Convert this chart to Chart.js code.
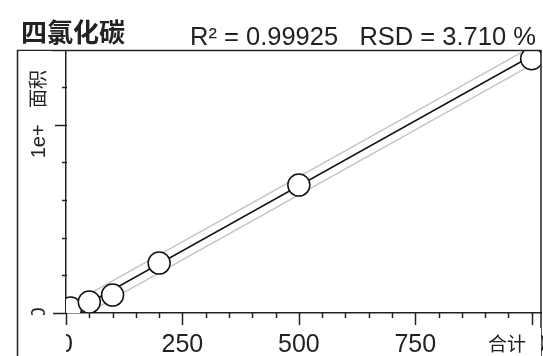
<!DOCTYPE html>
<html>
<head>
<meta charset="utf-8">
<script src="https://cdn.jsdelivr.net/npm/chart.js@4.4.0/dist/chart.umd.min.js"></script>
<style>
  html, body { margin: 0; padding: 0; background: #fff; }
  canvas { display: block; }
</style>
</head>
<body>
<canvas id="myChart" width="543" height="356"></canvas>
<script>
// chart texts
const chartTitle = '四氯化碳';
const statsText = 'R² = 0.99925   RSD = 3.710 %';
const xTitle = '合计';
const yTitle = '面积';

// calibration points (level vs area)
const levels = [10, 50, 100, 200, 500, 1000];
const areas = [2.6e5, 5.8e5, 9.5e5, 2.65e6, 6.79e6, 1.35e7];

// fitted line and its band, read at both ends of the axis
const fitX = [0, 1020];
const fitY = [-1.5e5, 1.393e7];
const bandUpper = [3.3e5, 1.441e7];
const bandLower = [-6.3e5, 1.345e7];

// axis ticks
const xMajorTicks = [0, 250, 500, 750, 1000];
const xTickLabels = ['0', '250', '500', '750', '1000'];
const xMinorStep = 50;
const yMajorTicks = [0, 1e7];
const yTickLabels = ['0', '1e+007'];
const yMinorStep = 2e6;

const toPts = (xs, ys) => xs.map((v, i) => ({x: v, y: ys[i]}));

// frame, tick marks, tick labels and titles
const axisDeco = {
  id: 'axisDeco',
  afterDraw(chart) {
    const {ctx, chartArea: a, scales: {x, y}} = chart;
    ctx.save();
    ctx.strokeStyle = '#222';
    ctx.lineWidth = 1.5;
    ctx.strokeRect(17.5, 50.5, 523.5, 340);

    // x tick marks
    for (let v = 0; v <= x.max; v += xMinorStep) {
      const px = Math.round(x.getPixelForValue(v)) + 0.5;
      const len = xMajorTicks.includes(v) ? 12 : 5;
      ctx.beginPath(); ctx.moveTo(px, a.bottom); ctx.lineTo(px, a.bottom + len); ctx.stroke();
    }
    // y tick marks
    for (let v = 0; v <= y.max; v += yMinorStep) {
      const py = Math.round(y.getPixelForValue(v)) + 0.5;
      const len = v === 0 ? 13 : (yMajorTicks.includes(v) ? 11 : 4);
      ctx.beginPath(); ctx.moveTo(a.left - len, py); ctx.lineTo(a.left + 1, py); ctx.stroke();
    }

    ctx.fillStyle = '#222';
    // x labels, clipped right of the y axis
    ctx.save();
    ctx.beginPath(); ctx.rect(a.left, a.bottom + 2, 543 - a.left, 60); ctx.clip();
    ctx.font = '25px "Liberation Sans"';
    ctx.textAlign = 'center';
    ctx.textBaseline = 'alphabetic';
    xMajorTicks.forEach((v, i) => ctx.fillText(xTickLabels[i], x.getPixelForValue(v), 352));
    ctx.restore();

    // y labels, clipped above the x axis
    ctx.save();
    ctx.beginPath(); ctx.rect(18, 51, a.left - 18, a.bottom + 2 - 51); ctx.clip();
    ctx.font = '20px "Liberation Sans"';
    ctx.textAlign = 'center';
    ctx.textBaseline = 'alphabetic';
    yMajorTicks.forEach((v, i) => {
      ctx.save();
      ctx.translate(45, y.getPixelForValue(v));
      ctx.rotate(-Math.PI / 2);
      ctx.fillText(yTickLabels[i], 0, 0);
      ctx.restore();
    });
    // y title on a white box
    ctx.fillStyle = '#fff';
    ctx.fillRect(19, 51, 33, 74);
    ctx.fillStyle = '#222';
    ctx.font = '19px "Noto Sans CJK SC"';
    ctx.translate(45, 89);
    ctx.rotate(-Math.PI / 2);
    ctx.fillText(yTitle, 0, 0);
    ctx.restore();

    // x title on a white box
    ctx.save();
    ctx.beginPath(); ctx.rect(480, a.bottom + 2, 61, 60); ctx.clip();
    ctx.fillStyle = '#fff';
    ctx.fillRect(484, 328, 60, 30);
    ctx.fillStyle = '#222';
    ctx.font = '19px "Noto Sans CJK SC"';
    ctx.textAlign = 'left';
    ctx.fillText(xTitle, 488, 351);
    ctx.restore();

    // header
    ctx.fillStyle = '#222';
    ctx.textAlign = 'left';
    ctx.textBaseline = 'alphabetic';
    ctx.font = 'bold 26px "Noto Sans CJK SC"';
    ctx.fillText(chartTitle, 21, 42);
    ctx.font = '25.5px "Liberation Sans"';
    ctx.fillText(statsText, 190, 45);
    ctx.restore();
  }
};

const ctx = document.getElementById('myChart').getContext('2d');
const myChart = new Chart(ctx, {
  type: 'scatter',
  data: {
    datasets: [
      {data: toPts(levels, areas), pointRadius: 11, pointBackgroundColor: '#fff',
       pointBorderColor: '#111', pointBorderWidth: 1.5, clip: 0, order: 0},
      {type: 'line', data: toPts(fitX, fitY), borderColor: '#111', borderWidth: 1.6,
       pointRadius: 0, clip: 0, order: 1},
      {type: 'line', data: toPts(fitX, bandUpper), borderColor: '#c6c6c6', borderWidth: 1.5,
       pointRadius: 0, clip: 0, order: 2},
      {type: 'line', data: toPts(fitX, bandLower), borderColor: '#c6c6c6', borderWidth: 1.5,
       pointRadius: 0, clip: 0, order: 2}
    ]
  },
  options: {
    responsive: false, animation: false, events: [],
    layout: {autoPadding: false, padding: {top: 51, right: 2, left: 0, bottom: 0}},
    plugins: {legend: {display: false}, tooltip: {enabled: false}},
    scales: {
      x: {type: 'linear', min: 0, max: 1020,
          grid: {display: false}, border: {color: '#222', width: 1.5},
          ticks: {display: false}, afterFit(s) { s.height = 43; }},
      y: {type: 'linear', min: 0, max: 1.3907e7,
          grid: {display: false}, border: {color: '#222', width: 1.5},
          ticks: {display: false}, afterFit(s) { s.width = 66; }}
    }
  },
  plugins: [axisDeco]
});
</script>
</body>
</html>
